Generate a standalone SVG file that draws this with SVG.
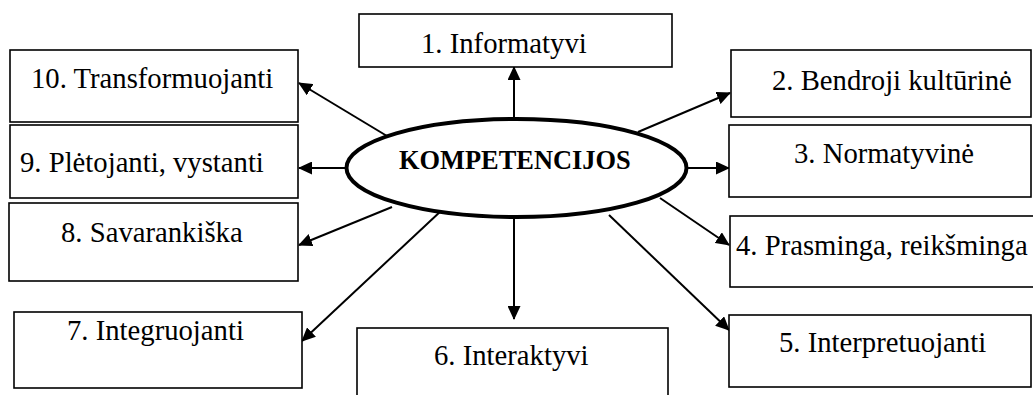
<svg xmlns="http://www.w3.org/2000/svg" width="1033" height="395" viewBox="0 0 1033 395">
<style>
.box{fill:#fff;stroke:#000;stroke-width:1.6}
.t{font-family:'Liberation Serif', 'Times New Roman', serif;font-size:28.7px;fill:#000}
.c{stroke:#000;stroke-width:2;fill:none;marker-end:url(#ah)}
</style>
<defs>
<marker id="ah" viewBox="0 0 14 13" refX="13" refY="6.5" markerWidth="14" markerHeight="13" markerUnits="userSpaceOnUse" orient="auto">
<path d="M0,0 L14,6.5 L0,13 Z" fill="#000"/>
</marker>
</defs>
<rect width="1033" height="395" fill="#fff"/>
<g id="connectors">
<line class="c" x1="514" y1="118" x2="514" y2="67"/>
<line class="c" x1="638" y1="132" x2="730" y2="93"/>
<line class="c" x1="688" y1="168" x2="729" y2="168"/>
<line class="c" x1="660" y1="198" x2="729" y2="245"/>
<line class="c" x1="609" y1="215" x2="729" y2="330"/>
<line class="c" x1="514" y1="218" x2="514" y2="319"/>
<line class="c" x1="442" y1="210" x2="302" y2="341"/>
<line class="c" x1="392" y1="207" x2="299" y2="245"/>
<line class="c" x1="345" y1="168" x2="299" y2="168"/>
<line class="c" x1="387" y1="136" x2="299" y2="83"/>
</g>
<g id="n1"><rect class="box" x="359" y="14" width="313" height="53"/><text class="t" x="421" y="53">1. Informatyvi</text></g>
<g id="n2"><rect class="box" x="731" y="50" width="300" height="67"/><text class="t" x="772" y="90">2. Bendroji kultūrinė</text></g>
<g id="n3"><rect class="box" x="729" y="125" width="302" height="72"/><text class="t" x="794" y="163">3. Normatyvinė</text></g>
<g id="n4"><rect class="box" x="730" y="216" width="310" height="71"/><text class="t" x="736" y="255">4. Prasminga, reikšminga</text></g>
<g id="n5"><rect class="box" x="729" y="315" width="302" height="72"/><text class="t" x="779" y="352">5. Interpretuojanti</text></g>
<g id="n6"><rect class="box" x="357" y="328" width="311" height="80"/><text class="t" x="434" y="365">6. Interaktyvi</text></g>
<g id="n7"><rect class="box" x="14" y="312" width="288" height="76"/><text class="t" x="67" y="340">7. Integruojanti</text></g>
<g id="n8"><rect class="box" x="9" y="203" width="289" height="78"/><text class="t" x="61" y="242">8. Savarankiška</text></g>
<g id="n9"><rect class="box" x="10" y="125" width="288" height="73"/><text class="t" x="20" y="172">9. Plėtojanti, vystanti</text></g>
<g id="n10"><rect class="box" x="10" y="50" width="288" height="72"/><text class="t" x="31" y="88">10. Transformuojanti</text></g>
<g id="center"><ellipse cx="516.5" cy="168" rx="170" ry="49" fill="#fff" stroke="#000" stroke-width="4"/><text x="399" y="169" font-family="'Liberation Serif', 'Times New Roman', serif" font-size="26.4" font-weight="bold">KOMPETENCIJOS</text></g>
</svg>
